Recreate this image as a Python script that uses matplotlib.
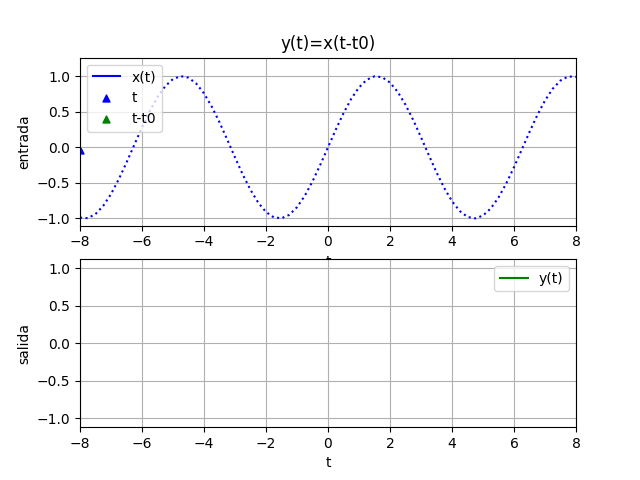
import matplotlib
matplotlib.use("Agg")
import matplotlib.pyplot as plt

# sampled input signal x(t)
t_vals = [-8 + 0.25 * k for k in range(65)]
x_vals = [-0.989, -0.995, -0.938, -0.823, -0.657, -0.450, -0.215, 0.033,
          0.279, 0.508, 0.706, 0.859, 0.959, 0.999, 0.978, 0.895,
          0.757, 0.572, 0.351, 0.108, -0.141, -0.382, -0.598, -0.778,
          -0.909, -0.984, -0.997, -0.949, -0.841, -0.682, -0.479, -0.247,
          0.0,
          0.247, 0.479, 0.682, 0.841, 0.949, 0.997, 0.984, 0.909,
          0.778, 0.598, 0.382, 0.141, -0.108, -0.351, -0.572, -0.757,
          -0.895, -0.978, -0.999, -0.959, -0.859, -0.706, -0.508, -0.279,
          -0.033, 0.215, 0.450, 0.657, 0.823, 0.938, 0.995, 0.989]

# marker points
t_pt_x = [-8.0]
t_pt_y = [-0.04]
tt0_pt_x = []
tt0_pt_y = []

# output (empty)
y_t = []
y_vals = []

fig, (ax1, ax2) = plt.subplots(2, 1, figsize=(6.4, 4.8), dpi=100)

ax1.plot(t_vals, x_vals, 'b:', label='x(t)')
ax1.plot([], [], 'b-', label='_nolegend_')
ax1.scatter(t_pt_x, t_pt_y, marker='^', color='b', s=25, label='t', clip_on=True)
ax1.scatter(tt0_pt_x, tt0_pt_y, marker='^', color='g', s=25, label='t-t0')
ax1.set_xlim(-8, 8)
ax1.set_ylim(-1.1, 1.26)
ax1.set_title('y(t)=x(t-t0)')
ax1.set_xlabel('t')
ax1.set_ylabel('entrada')
ax1.grid(True)
from matplotlib.lines import Line2D
h, l = ax1.get_legend_handles_labels()
h[0] = Line2D([], [], color='b', linestyle='-')
ax1.legend(h, l, loc='upper left')

ax2.plot(y_t, y_vals, 'g-', label='y(t)')
ax2.set_xlim(-8, 8)
ax2.set_ylim(-1.12, 1.12)
ax2.set_xlabel('t')
ax2.set_ylabel('salida')
ax2.grid(True)
ax2.legend(loc='upper right')

fig.savefig('out.png')
